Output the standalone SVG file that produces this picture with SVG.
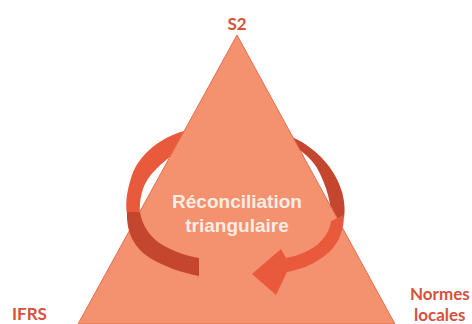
<svg xmlns="http://www.w3.org/2000/svg" width="472" height="324" viewBox="0 0 472 324">
<style>
.lbl{font-family:Lato,"Open Sans","Liberation Sans",sans-serif;font-weight:bold;font-size:17px;fill:#D5513B}
.mid{font-family:"Liberation Sans",Arial,sans-serif;font-weight:bold;font-size:19px;fill:#FBEDE4;text-anchor:middle}
.bright{fill:#E95A3D}
.dark{fill:#C4462F}
</style>
<rect width="472" height="324" fill="#FFFFFF"/>
<g id="connectors-back">
<path class="bright" d="M184,131 C162,137 140,153 132,175 C127,190 125,203 127,214 L140,214 C139,200 142,186 150,176 C158,166 170,156 190,142 Z"/>
<path class="dark" d="M292,137 C317,148 336,170 342,192 C345,203 345,211 344,218 L331,222 C332,205 327,186 317,168 C311,158 300,149 288,143 Z"/>
</g>
<g id="triangle">
<polygon points="237,35 78,324 395,324" fill="#F4916F" stroke="#E56E51" stroke-width="1"/>
</g>
<g id="connectors">
<path class="dark" d="M127,212 C126,232 134,248 150,258 C165,267 180,272 199,276 L199,258 C182,255 168,249 158,242 C148,234 142,224 140,212 Z"/>
<path class="bright" d="M344,215 C344,235 335,250 320,259 C310,266 298,270 287,272 L276,295 L252,274 L281,249 L286,258 C298,256 309,251 317,245 C325,238 330,230 331,221 Z"/>
</g>
<g id="center-label">
<text class="mid" x="237" y="208">Réconciliation</text>
<text class="mid" x="237" y="232">triangulaire</text>
</g>
<g id="s2">
<text class="lbl" x="237" y="30" text-anchor="middle">S2</text>
</g>
<g id="ifrs">
<text class="lbl" x="12" y="320">IFRS</text>
</g>
<g id="normes">
<text class="lbl" x="410" y="300">Normes</text>
<text class="lbl" x="414" y="321">locales</text>
</g>
</svg>
